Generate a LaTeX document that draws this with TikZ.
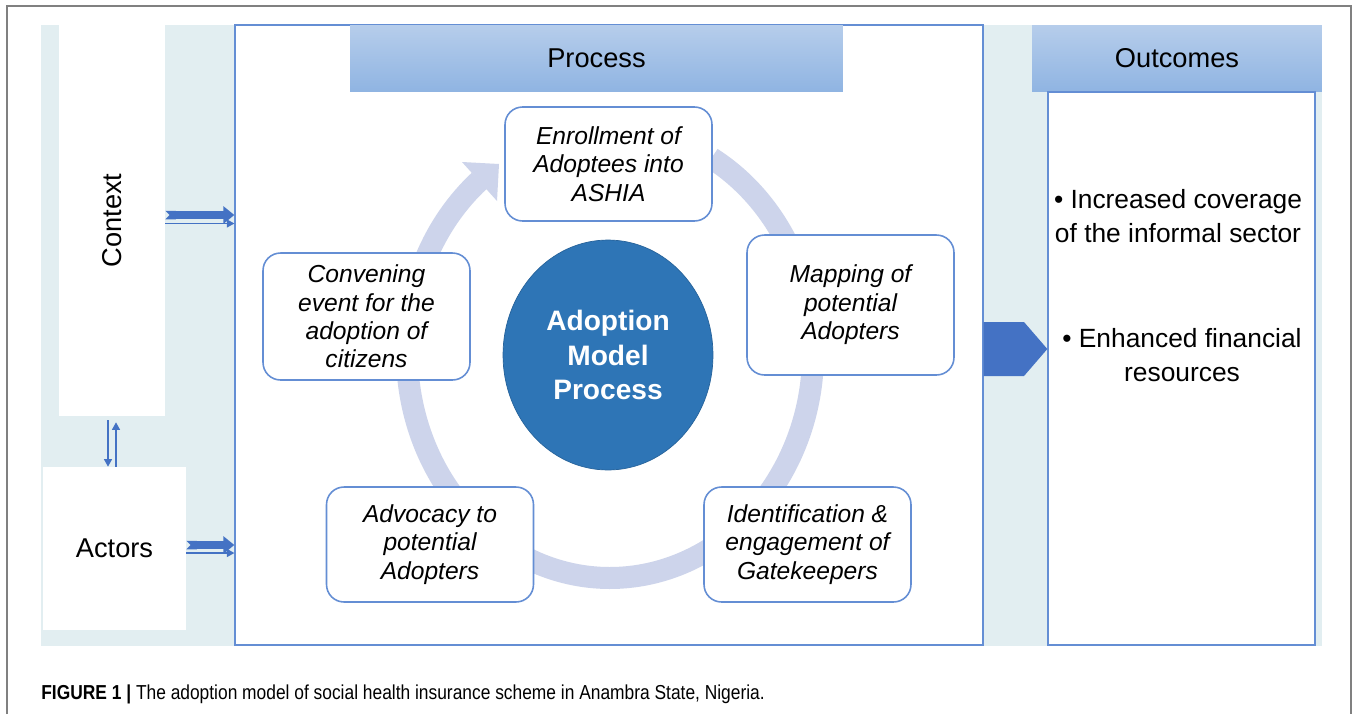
\documentclass[tikz,border=0pt]{standalone}
\usepackage{fontspec}
\setmainfont{Liberation Sans}
\newfontfamily\capfont{Liberation Sans}[FakeStretch=0.86]
\usepackage{graphicx}
\usepackage{tikz}
\usetikzlibrary{shapes.geometric, arrows.meta}

\definecolor{bgblue}{RGB}{226,238,241}
\definecolor{boxline}{RGB}{100,142,212}
\definecolor{ringblue}{RGB}{205,212,235}
\definecolor{coreblue}{RGB}{46,117,182}
\definecolor{arrowblue}{RGB}{68,114,196}
\definecolor{headtop}{RGB}{182,205,235}
\definecolor{headbot}{RGB}{143,180,226}

\begin{document}
\begin{tikzpicture}[x=0.02cm, y=-0.02cm,
  every node/.style={font=\fontsize{15.5}{19}\selectfont},
  stepbox/.style={draw=boxline, line width=0.9pt, rounded corners=0.35cm, fill=white,
    align=center, minimum width=4.14cm, font=\fontsize{14}{16.2}\selectfont\itshape},
  header/.style={top color=headtop, bottom color=headbot, minimum height=1.34cm},
  bigarrow/.style={arrowblue, line width=0.17cm,
    {Triangle Cap[reversed]}-{Triangle[length=0.22cm,width=0.34cm]}},
  thinarrow/.style={arrowblue, line width=0.6pt, -{Triangle[length=0.15cm,width=0.16cm]}}]

% frame and background
\useasboundingbox (0,0) rectangle (1358,714);
\draw[gray, line width=0.8pt] (7,714) -- (7,6) -- (1351,6) -- (1351,714);
\fill[bgblue] (41,25) rectangle (1322,646);

% Context and Actors
\node[fill=white, minimum width=2.12cm, minimum height=7.82cm] (ctx) at (112,220.5) {\rotatebox{90}{Context}};
\node[fill=white, minimum width=2.86cm, minimum height=3.26cm] (act) at (114.5,548.5) {Actors};

% Process
\node[draw=boxline, fill=white, line width=0.8pt, minimum width=14.96cm, minimum height=12.4cm] (proc) at (609,335) {};
\node[header, minimum width=9.86cm] (proch) at (596.5,58.5) {Process};

% Outcomes
\node[header, minimum width=5.8cm] (outch) at (1177,58.5) {Outcomes};
\node[draw=boxline, fill=white, line width=0.8pt, minimum width=5.34cm, minimum height=11.06cm] (outc) at (1181.5,368.5) {};
\node[align=center, font=\fontsize{15}{19.3}\selectfont] (res1) at (1178,216) {• Increased coverage\\of the informal sector};
\node[align=center, font=\fontsize{15}{19.3}\selectfont] (res2) at (1182,355) {• Enhanced financial\\resources};

% cycle
\draw[ringblue, line width=0.44cm] (711.5,158.1) arc[start angle=-60, end angle=230, x radius=203, y radius=225];
\fill[ringblue] (462,162) -- (499,164) -- (497,201) -- cycle;

\node[ellipse, fill=coreblue, draw=coreblue!85!black, minimum width=4.2cm, minimum height=4.6cm,
  text=white, align=center, font=\fontsize{16}{19.5}\selectfont\bfseries] (core) at (608,355) {Adoption\\Model\\Process};

\node[stepbox, minimum height=2.28cm] (s1) at (608.5,164) {Enrollment of\\Adoptees into\\ASHIA};
\node[stepbox, minimum height=2.8cm] (s2) at (850.5,305) {Mapping of\\potential\\Adopters};
\node[stepbox, minimum height=2.3cm] (s3) at (807.5,544.5) {Identification \&\\engagement of\\Gatekeepers};
\node[stepbox, minimum height=2.3cm] (s4) at (430,544.5) {Advocacy to\\potential\\Adopters};
\node[stepbox, minimum height=2.54cm] (s5) at (366.5,316.5) {Convening\\event for the\\adoption of\\citizens};

% arrows
\coordinate (c1) at ([yshift=0.11cm]ctx.east);
\coordinate (c2) at ([yshift=-0.06cm]ctx.east);
\draw[bigarrow] (c1) -- (c1 -| proc.west);
\draw[thinarrow] (c2) -- (c2 -| proc.west);

\coordinate (a1) at ([yshift=0.07cm]act.east);
\coordinate (a2) at ([yshift=-0.09cm]act.east);
\draw[bigarrow] (a1) -- (a1 -| proc.west);
\draw[thinarrow] (a2) -- (a2 -| proc.west);

\coordinate (d1) at ([xshift=-0.08cm]ctx.south);
\coordinate (u1) at ([xshift=0.03cm]act.north);
\draw[thinarrow, shorten <=0.08cm] (d1) -- (d1 |- act.north);
\draw[thinarrow, shorten >=0.12cm] (u1) -- (u1 |- ctx.south);

\fill[arrowblue] (proc.east |- 0,322) -- (1024,322) -- (outc.west |- 0,349) -- (1024,376) -- (proc.east |- 0,376) -- cycle;

% caption
\node[anchor=west, inner sep=0pt, font=\capfont\fontsize{11.5}{14}\selectfont] (cap) at (41,694)
  {\textbf{FIGURE 1 |} The adoption model of social health insurance scheme in Anambra State, Nigeria.};

\end{tikzpicture}
\end{document}
